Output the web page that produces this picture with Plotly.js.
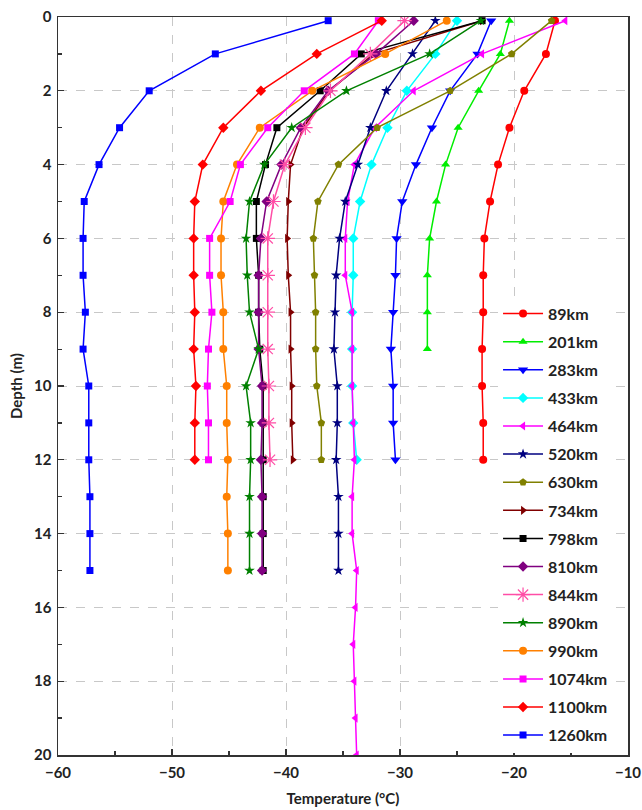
<!DOCTYPE html>
<html>
<head>
<meta charset="utf-8">
<script src="https://cdn.plot.ly/plotly-3.0.1.min.js"></script>
<style>html,body{margin:0;padding:0;background:#fff;}#chart{width:642px;height:810px;}</style>
</head>
<body>
<div id="chart"></div>
<script>
// Depth levels (m)
const depths = [0.1, 1, 2, 3, 4, 5, 6, 7, 8, 9, 10, 11, 12, 13, 14, 15, 16, 17, 18, 19, 20];

// Series names
const seriesNames = ["89km","201km","283km","433km","464km","520km","630km","734km","798km","810km","844km","890km","990km","1074km","1100km","1260km"];

// Temperatures (°C) per series, from the surface downwards
const t89   = [-16.4,-17.2,-19.1,-20.4,-21.4,-22.1,-22.6,-22.7,-22.7,-22.8,-22.8,-22.7,-22.7];
const t201  = [-20.4,-21.2,-23.1,-24.9,-26.0,-26.8,-27.4,-27.6,-27.6,-27.6];
const t283  = [-22.0,-23.2,-25.6,-27.2,-28.6,-29.8,-30.3,-30.4,-30.6,-30.8,-30.6,-30.6,-30.4];
const t433  = [-25.0,-26.9,-29.4,-31.1,-32.5,-33.5,-34.1,-34.1,-34.2,-34.2,-34.2,-34.1,-33.8];
const t464  = [-15.5,-22.8,-28.8,-32.2,-34.0,-34.6,-34.8,-34.8,-34.2,-34.2,-34.2,-34.1,-34.0,-34.2,-34.2,-33.8,-33.9,-34.1,-34.0,-33.9,-33.8];
const t520  = [-26.9,-28.9,-31.2,-32.6,-33.7,-34.8,-35.3,-35.6,-35.7,-35.8,-35.5,-35.5,-35.6,-35.4,-35.4,-35.4];
const t630  = [-16.7,-20.2,-25.6,-32.0,-35.4,-37.2,-37.6,-37.5,-37.4,-37.4,-37.3,-36.9,-36.9];
const t734  = [-22.8,-32.3,-36.2,-38.5,-39.6,-39.8,-39.9,-39.8,-39.6,-39.6,-39.5,-39.5,-39.4];
const t798  = [-22.8,-33.4,-37.0,-40.8,-41.8,-42.6,-42.6,-42.4,-42.4,-42.3,-42.0,-42.0,-42.0,-42.0,-42.0,-42.0];
const t810  = [-28.8,-32.1,-36.3,-38.7,-40.4,-41.7,-42.2,-42.4,-42.4,-42.4,-42.1,-42.1,-42.2,-42.1,-42.1,-42.1];
const t844  = [-29.6,-32.6,-36.1,-38.3,-40.1,-41.1,-41.6,-41.6,-41.6,-41.6,-41.5,-41.5,-41.4];
const t890  = [-22.9,-27.4,-34.7,-39.5,-41.9,-43.2,-43.5,-43.4,-43.2,-42.4,-43.5,-43.1,-43.1,-43.2,-43.2,-43.2];
const t990  = [-25.9,-31.3,-37.7,-42.3,-44.3,-45.5,-45.7,-45.7,-45.5,-45.5,-45.2,-45.2,-45.1,-45.2,-45.1,-45.1];
const t1074 = [-31.9,-34.0,-38.4,-41.6,-44.0,-44.9,-46.7,-46.7,-46.5,-46.8,-46.9,-46.8,-46.8];
const t1100 = [-31.6,-37.3,-42.2,-45.5,-47.3,-48.0,-48.1,-48.1,-48.0,-48.1,-47.9,-48.0,-48.0];
const t1260 = [-36.3,-46.2,-52.0,-54.6,-56.4,-57.7,-57.8,-57.8,-57.6,-57.8,-57.3,-57.3,-57.3,-57.2,-57.2,-57.2];

const seriesValues = [t89,t201,t283,t433,t464,t520,t630,t734,t798,t810,t844,t890,t990,t1074,t1100,t1260];

// Styles
const colors  = ["#ff0000","#00ee00","#0000ff","#00ffff","#ff00ff","#000080","#808000","#800000","#000000","#800080","#ff4da6","#008000","#ff8000","#ff00ff","#ff0000","#0000ff"];
const symbols = ["circle","triangle-up","triangle-down","diamond","triangle-left","star","pentagon","triangle-right","square","diamond","asterisk-open","star","circle","square","diamond","square"];
const sizes   = [8,8,9,8,8,8,8,8,7,8,12,8,8,7,8,7];

const traces = seriesNames.map((name, i) => {
  const vals = seriesValues[i];
  return {
    type: "scatter",
    mode: "lines+markers",
    name: name,
    legendgroup: "g" + i,
    x: vals,
    y: depths.slice(0, vals.length),
    line: {color: colors[i], width: 1.5},
    marker: {
      symbol: symbols[i],
      size: sizes[i],
      color: colors[i],
      line: {color: colors[i], width: symbols[i] === "asterisk-open" ? 1.2 : 0}
    }
  };
});

const fam = "Lato, 'Liberation Sans', Arial, sans-serif";
const tickFont = {family: fam, size: 15, color: "#222", weight: "bold"};
const titleFont = {family: fam, size: 15, color: "#222", weight: "bold"};

const layout = {
  width: 642,
  height: 810,
  margin: {l: 58, r: 14, t: 17, b: 55},
  paper_bgcolor: "#ffffff",
  plot_bgcolor: "#ffffff",
  showlegend: true,
  xaxis: {
    range: [-60, -10],
    dtick: 10,
    tick0: -60,
    ticks: "inside",
    ticklen: 6,
    tickwidth: 1.2,
    tickcolor: "#333",
    ticklabelstandoff: 3,
    minor: {dtick: 5, ticks: "inside", ticklen: 4, tickcolor: "#333", showgrid: false},
    showgrid: true,
    gridcolor: "#c8c8c8",
    griddash: "dash",
    gridwidth: 1,
    zeroline: false,
    showline: true,
    linecolor: "#333",
    linewidth: 1.5,
    mirror: true,
    tickfont: tickFont,
    title: {text: "Temperature (°C)", font: titleFont, standoff: 14}
  },
  yaxis: {
    range: [20, 0],
    dtick: 2,
    tick0: 0,
    ticks: "inside",
    ticklen: 6,
    tickwidth: 1.2,
    tickcolor: "#333",
    ticklabelstandoff: 2,
    minor: {dtick: 1, ticks: "inside", ticklen: 4, tickcolor: "#333", showgrid: false},
    showgrid: true,
    gridcolor: "#c8c8c8",
    griddash: "dash",
    gridwidth: 1,
    zeroline: false,
    showline: true,
    linecolor: "#333",
    linewidth: 1.5,
    mirror: true,
    tickfont: tickFont,
    title: {text: "Depth (m)", font: titleFont, standoff: 8}
  },
  legend: {
    x: 0.772,
    xanchor: "left",
    y: 0.621,
    yanchor: "top",
    bgcolor: "#ffffff",
    borderwidth: 0,
    itemwidth: 40,
    tracegroupgap: 4.3,
    font: {family: fam, size: 16, color: "#222", weight: "bold"}
  }
};

Plotly.newPlot("chart", traces, layout, {displayModeBar: false, staticPlot: true});
</script>
</body>
</html>
